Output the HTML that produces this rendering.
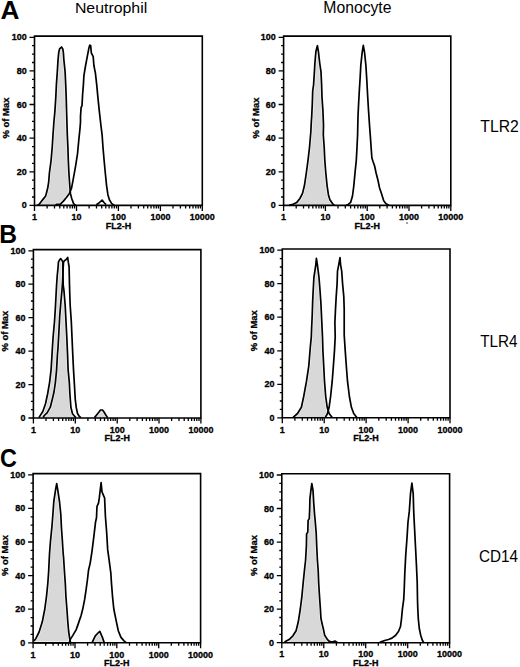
<!DOCTYPE html>
<html><head><meta charset="utf-8"><style>
html,body{margin:0;padding:0;background:#fff;}
svg{display:block;}
.t{font-family:"Liberation Sans",sans-serif;font-weight:bold;font-size:9px;fill:#000;stroke:#000;stroke-width:0.3px;}
.h{font-family:"Liberation Sans",sans-serif;font-size:15.5px;fill:#000;}
.L{font-family:"Liberation Sans",sans-serif;font-weight:bold;font-size:24.5px;fill:#000;}
</style></head><body>
<svg width="520" height="667" viewBox="0 0 520 667">
<rect width="520" height="667" fill="#fff"/>
<text class="L" transform="translate(0.55 18.80) scale(1.0255 1)" style="font-size:25.58px">A</text>
<text class="L" transform="translate(-0.75 242.80) scale(0.9453 1)" style="font-size:26.02px">B</text>
<text class="L" transform="translate(-0.06 466.84) scale(0.8956 1)" style="font-size:26.13px">C</text>
<text class="h" transform="translate(74.90 12.70) scale(1.0271 1)" style="font-size:15.46px">Neutrophil</text>
<text class="h" transform="translate(323.31 12.70) scale(1.0019 1)" style="font-size:15.70px">Monocyte</text>
<text class="h" transform="translate(480.35 131.50) scale(0.9488 1)" style="font-size:16.57px">TLR2</text>
<text class="h" transform="translate(480.16 346.50) scale(0.9393 1)" style="font-size:16.28px">TLR4</text>
<text class="h" transform="translate(479.02 561.74) scale(0.9340 1)" style="font-size:16.38px">CD14</text>
<polygon points="37.5,205.4 39.5,203.9 40.9,202 43.2,199.1 45.5,196.2 46.4,193.3 47.8,187.5 48.7,181.8 49.4,173 51.1,160.3 52.2,147.5 53,134.8 53.9,122 54.9,111.4 55.8,97.4 56.4,84.6 57.3,71.9 58.1,59.1 58.7,52.8 59.6,48.9 61.5,47 62.8,48.9 63.4,52.8 63.8,59.1 65.1,71.9 65.7,84.6 66.2,97.4 66.6,111.4 67,125.1 67.3,134.8 67.9,147.5 68.3,160.3 68.9,173 69.8,185.8 70.4,193.4 71.7,198.5 73.6,203.6 75.5,205.4" fill="#d8d8d8"/>
<polygon points="55.8,205.2 56.2,204.3 60.2,204.3 60.9,203.6 63.4,201.1 66.6,197.3 69.4,193.4 71.5,188.3 73.2,179.4 75.5,166.6 77.5,153.9 78.7,141.1 80,128.4 80.5,122 80.5,116.5 81.1,107.6 82,105.7 82.6,94.8 83.4,84.6 83.9,75.7 85.6,65.5 87.5,55.3 89,47.7 89.8,45.1 90.7,45.7 91.3,52.8 93.2,56.6 93.9,65.5 95.4,73.2 96.7,84.6 97.9,97.4 99.2,110.2 100.9,125.1 102.1,134.8 103,147.5 104.1,160.3 105.3,173 106.6,185.8 107.9,194.7 109.4,199.8 111.7,203.6 114.3,205.2" fill="#fff"/>
<polyline points="37.5,205.4 39.5,203.9 40.9,202 43.2,199.1 45.5,196.2 46.4,193.3 47.8,187.5 48.7,181.8 49.4,173 51.1,160.3 52.2,147.5 53,134.8 53.9,122 54.9,111.4 55.8,97.4 56.4,84.6 57.3,71.9 58.1,59.1 58.7,52.8 59.6,48.9 61.5,47 62.8,48.9 63.4,52.8 63.8,59.1 65.1,71.9 65.7,84.6 66.2,97.4 66.6,111.4 67,125.1 67.3,134.8 67.9,147.5 68.3,160.3 68.9,173 69.8,185.8 70.4,193.4 71.7,198.5 73.6,203.6 75.5,205.4" fill="none" stroke="#fff" stroke-width="3.0" stroke-linejoin="round" stroke-opacity="0.7"/>
<polyline points="55.8,205.2 56.2,204.3 60.2,204.3 60.9,203.6 63.4,201.1 66.6,197.3 69.4,193.4 71.5,188.3 73.2,179.4 75.5,166.6 77.5,153.9 78.7,141.1 80,128.4 80.5,122 80.5,116.5 81.1,107.6 82,105.7 82.6,94.8 83.4,84.6 83.9,75.7 85.6,65.5 87.5,55.3 89,47.7 89.8,45.1 90.7,45.7 91.3,52.8 93.2,56.6 93.9,65.5 95.4,73.2 96.7,84.6 97.9,97.4 99.2,110.2 100.9,125.1 102.1,134.8 103,147.5 104.1,160.3 105.3,173 106.6,185.8 107.9,194.7 109.4,199.8 111.7,203.6 114.3,205.2" fill="none" stroke="#fff" stroke-width="3.0" stroke-linejoin="round" stroke-opacity="0.7"/>
<polyline points="96.4,204.8 99,203 102.1,200.1 104,202.5 106,204.6" fill="none" stroke="#fff" stroke-width="3.0" stroke-linejoin="round" stroke-opacity="0.7"/>
<polyline points="37.5,205.4 39.5,203.9 40.9,202 43.2,199.1 45.5,196.2 46.4,193.3 47.8,187.5 48.7,181.8 49.4,173 51.1,160.3 52.2,147.5 53,134.8 53.9,122 54.9,111.4 55.8,97.4 56.4,84.6 57.3,71.9 58.1,59.1 58.7,52.8 59.6,48.9 61.5,47 62.8,48.9 63.4,52.8 63.8,59.1 65.1,71.9 65.7,84.6 66.2,97.4 66.6,111.4 67,125.1 67.3,134.8 67.9,147.5 68.3,160.3 68.9,173 69.8,185.8 70.4,193.4 71.7,198.5 73.6,203.6 75.5,205.4" fill="none" stroke="#000" stroke-width="1.7" stroke-linejoin="round"/>
<polyline points="55.8,205.2 56.2,204.3 60.2,204.3 60.9,203.6 63.4,201.1 66.6,197.3 69.4,193.4 71.5,188.3 73.2,179.4 75.5,166.6 77.5,153.9 78.7,141.1 80,128.4 80.5,122 80.5,116.5 81.1,107.6 82,105.7 82.6,94.8 83.4,84.6 83.9,75.7 85.6,65.5 87.5,55.3 89,47.7 89.8,45.1 90.7,45.7 91.3,52.8 93.2,56.6 93.9,65.5 95.4,73.2 96.7,84.6 97.9,97.4 99.2,110.2 100.9,125.1 102.1,134.8 103,147.5 104.1,160.3 105.3,173 106.6,185.8 107.9,194.7 109.4,199.8 111.7,203.6 114.3,205.2" fill="none" stroke="#000" stroke-width="1.7" stroke-linejoin="round"/>
<polyline points="96.4,204.8 99,203 102.1,200.1 104,202.5 106,204.6" fill="none" stroke="#000" stroke-width="1.7" stroke-linejoin="round"/>
<path d="M34.5 36.1H202.3V205.4H34.5Z" fill="none" stroke="#000" stroke-width="1.6"/>
<path d="M29.5 205.4H34.5M32 197H34.5M32 188.6H34.5M32 180.2H34.5M29.5 171.8H34.5M32 163.4H34.5M32 155H34.5M32 146.6H34.5M29.5 138.2H34.5M32 129.8H34.5M32 121.4H34.5M32 112.9H34.5M29.5 104.5H34.5M32 96.1H34.5M32 87.7H34.5M32 79.3H34.5M29.5 70.9H34.5M32 62.5H34.5M32 54.1H34.5M32 45.7H34.5M29.5 37.3H34.5M34.5 205.4V210.9M47.1 205.4V208.4M54.5 205.4V208.4M59.8 205.4V208.4M63.8 205.4V208.4M67.1 205.4V208.4M70 205.4V208.4M72.4 205.4V208.4M74.5 205.4V208.4M76.5 205.4V210.9M89.1 205.4V208.4M96.5 205.4V208.4M101.7 205.4V208.4M105.8 205.4V208.4M109.1 205.4V208.4M111.9 205.4V208.4M114.3 205.4V208.4M116.5 205.4V208.4M118.4 205.4V210.9M131 205.4V208.4M138.4 205.4V208.4M143.7 205.4V208.4M147.7 205.4V208.4M151 205.4V208.4M153.9 205.4V208.4M156.3 205.4V208.4M158.4 205.4V208.4M160.4 205.4V210.9M173 205.4V208.4M180.4 205.4V208.4M185.6 205.4V208.4M189.7 205.4V208.4M193 205.4V208.4M195.8 205.4V208.4M198.2 205.4V208.4M200.4 205.4V208.4M202.3 205.4V210.9" stroke="#000" stroke-width="1.3" fill="none"/>
<text transform="translate(26.7 208.4) scale(1 1.1)" class="t" text-anchor="end">0</text>
<text transform="translate(26.7 174.8) scale(1 1.1)" class="t" text-anchor="end">20</text>
<text transform="translate(26.7 141.2) scale(1 1.1)" class="t" text-anchor="end">40</text>
<text transform="translate(26.7 107.5) scale(1 1.1)" class="t" text-anchor="end">60</text>
<text transform="translate(26.7 73.9) scale(1 1.1)" class="t" text-anchor="end">80</text>
<text transform="translate(26.7 40.3) scale(1 1.1)" class="t" text-anchor="end">100</text>
<text transform="translate(34.5 220.1) scale(1 1.1)" class="t" text-anchor="middle">1</text>
<text transform="translate(76.5 220.1) scale(1 1.1)" class="t" text-anchor="middle">10</text>
<text transform="translate(118.4 220.1) scale(1 1.1)" class="t" text-anchor="middle">100</text>
<text transform="translate(160.4 220.1) scale(1 1.1)" class="t" text-anchor="middle">1000</text>
<text transform="translate(202.3 220.1) scale(1 1.1)" class="t" text-anchor="middle">10000</text>
<text transform="translate(118.4 228.6) scale(1 1.1)" class="t" text-anchor="middle">FL2-H</text>
<text transform="translate(9.4 118) scale(1 1.05) rotate(-90)" class="t" text-anchor="middle">% of Max</text>
<polygon points="289.1,205.4 292.9,204.3 296.8,202.4 299.9,198.5 302.5,193.4 304.4,185.8 306.3,173 308,160.3 309.5,147.5 310.8,132.2 311.3,122 311.7,116.5 312.3,103.8 312.7,91 313.6,84.6 314.4,71.9 314.9,63 315.9,51.5 317.4,45.7 318.4,51.5 319.7,63 321,71.9 321.6,84.6 322,97.4 322.9,110.2 323.5,125.1 323.3,134.8 324.2,147.5 324.8,160.3 325.8,173 327.1,185.8 328.4,194.7 329.9,199.8 332.5,203.6 334.5,205.4" fill="#d8d8d8"/>
<polyline points="289.1,205.4 292.9,204.3 296.8,202.4 299.9,198.5 302.5,193.4 304.4,185.8 306.3,173 308,160.3 309.5,147.5 310.8,132.2 311.3,122 311.7,116.5 312.3,103.8 312.7,91 313.6,84.6 314.4,71.9 314.9,63 315.9,51.5 317.4,45.7 318.4,51.5 319.7,63 321,71.9 321.6,84.6 322,97.4 322.9,110.2 323.5,125.1 323.3,134.8 324.2,147.5 324.8,160.3 325.8,173 327.1,185.8 328.4,194.7 329.9,199.8 332.5,203.6 334.5,205.4" fill="none" stroke="#fff" stroke-width="3.0" stroke-linejoin="round" stroke-opacity="0.7"/>
<polyline points="346,205.2 348,204.7 350.6,202.4 352.5,196 353.8,185.8 355,173 356.3,160.3 357,147.5 357.6,134.8 357.8,125.1 358,116.5 358.6,103.8 359.3,91 360.1,78.3 360.8,65.5 362.1,52.8 363.3,45.4 364.6,52.8 365.9,65.5 366.8,80 367.6,95 368.5,110 369.5,125 370.4,137 371.3,150 371.9,158 373.2,162 374.6,166 376.1,173 377.9,180 379.5,187.7 381.8,194.6 383.7,200.8 386,203.8 389,205.2" fill="none" stroke="#fff" stroke-width="3.0" stroke-linejoin="round" stroke-opacity="0.7"/>
<polyline points="289.1,205.4 292.9,204.3 296.8,202.4 299.9,198.5 302.5,193.4 304.4,185.8 306.3,173 308,160.3 309.5,147.5 310.8,132.2 311.3,122 311.7,116.5 312.3,103.8 312.7,91 313.6,84.6 314.4,71.9 314.9,63 315.9,51.5 317.4,45.7 318.4,51.5 319.7,63 321,71.9 321.6,84.6 322,97.4 322.9,110.2 323.5,125.1 323.3,134.8 324.2,147.5 324.8,160.3 325.8,173 327.1,185.8 328.4,194.7 329.9,199.8 332.5,203.6 334.5,205.4" fill="none" stroke="#000" stroke-width="1.7" stroke-linejoin="round"/>
<polyline points="346,205.2 348,204.7 350.6,202.4 352.5,196 353.8,185.8 355,173 356.3,160.3 357,147.5 357.6,134.8 357.8,125.1 358,116.5 358.6,103.8 359.3,91 360.1,78.3 360.8,65.5 362.1,52.8 363.3,45.4 364.6,52.8 365.9,65.5 366.8,80 367.6,95 368.5,110 369.5,125 370.4,137 371.3,150 371.9,158 373.2,162 374.6,166 376.1,173 377.9,180 379.5,187.7 381.8,194.6 383.7,200.8 386,203.8 389,205.2" fill="none" stroke="#000" stroke-width="1.7" stroke-linejoin="round"/>
<path d="M283.6 36.1H450.8V205.4H283.6Z" fill="none" stroke="#000" stroke-width="1.6"/>
<path d="M278.6 205.4H283.6M281.1 197H283.6M281.1 188.6H283.6M281.1 180.2H283.6M278.6 171.8H283.6M281.1 163.4H283.6M281.1 155H283.6M281.1 146.6H283.6M278.6 138.2H283.6M281.1 129.8H283.6M281.1 121.4H283.6M281.1 112.9H283.6M278.6 104.5H283.6M281.1 96.1H283.6M281.1 87.7H283.6M281.1 79.3H283.6M278.6 70.9H283.6M281.1 62.5H283.6M281.1 54.1H283.6M281.1 45.7H283.6M278.6 37.3H283.6M283.6 205.4V210.9M296.2 205.4V208.4M303.5 205.4V208.4M308.8 205.4V208.4M312.8 205.4V208.4M316.1 205.4V208.4M318.9 205.4V208.4M321.3 205.4V208.4M323.5 205.4V208.4M325.4 205.4V210.9M338 205.4V208.4M345.3 205.4V208.4M350.6 205.4V208.4M354.6 205.4V208.4M357.9 205.4V208.4M360.7 205.4V208.4M363.1 205.4V208.4M365.3 205.4V208.4M367.2 205.4V210.9M379.8 205.4V208.4M387.1 205.4V208.4M392.4 205.4V208.4M396.4 205.4V208.4M399.7 205.4V208.4M402.5 205.4V208.4M404.9 205.4V208.4M407.1 205.4V208.4M409 205.4V210.9M421.6 205.4V208.4M428.9 205.4V208.4M434.2 205.4V208.4M438.2 205.4V208.4M441.5 205.4V208.4M444.3 205.4V208.4M446.7 205.4V208.4M448.9 205.4V208.4M450.8 205.4V210.9" stroke="#000" stroke-width="1.3" fill="none"/>
<text transform="translate(275.8 208.4) scale(1 1.1)" class="t" text-anchor="end">0</text>
<text transform="translate(275.8 174.8) scale(1 1.1)" class="t" text-anchor="end">20</text>
<text transform="translate(275.8 141.2) scale(1 1.1)" class="t" text-anchor="end">40</text>
<text transform="translate(275.8 107.5) scale(1 1.1)" class="t" text-anchor="end">60</text>
<text transform="translate(275.8 73.9) scale(1 1.1)" class="t" text-anchor="end">80</text>
<text transform="translate(275.8 40.3) scale(1 1.1)" class="t" text-anchor="end">100</text>
<text transform="translate(283.6 220.1) scale(1 1.1)" class="t" text-anchor="middle">1</text>
<text transform="translate(325.4 220.1) scale(1 1.1)" class="t" text-anchor="middle">10</text>
<text transform="translate(367.2 220.1) scale(1 1.1)" class="t" text-anchor="middle">100</text>
<text transform="translate(409 220.1) scale(1 1.1)" class="t" text-anchor="middle">1000</text>
<text transform="translate(450.8 220.1) scale(1 1.1)" class="t" text-anchor="middle">10000</text>
<text transform="translate(367.2 228.6) scale(1 1.1)" class="t" text-anchor="middle">FL2-H</text>
<text transform="translate(258.5 118) scale(1 1.05) rotate(-90)" class="t" text-anchor="middle">% of Max</text>
<polygon points="38.9,417.6 40.3,415.4 42.8,411.5 45.5,403.7 47.6,394 49.6,382.3 51.1,369.6 52,355 52.4,347.7 53.1,337.2 54.5,321.5 55.5,305.7 56.3,290 56.6,285 57.2,276 58.1,267 58.4,262.2 59.6,259.8 60.8,258.6 62,260.4 62.9,262.2 62.9,273 63.2,285 63.9,290 65.2,305.7 66,321.5 66.8,337.2 67.5,353 68.1,369.6 69.3,382.3 69.9,394 70.9,407.2 72.5,413.7 74.8,416.5 76,417.6" fill="#d8d8d8"/>
<polygon points="94.5,417.6 97,414.5 99,412 100.5,410 102.5,410 104,412 105.5,414.5 107.5,417.6" fill="#d8d8d8"/>
<polyline points="38.9,417.6 40.3,415.4 42.8,411.5 45.5,403.7 47.6,394 49.6,382.3 51.1,369.6 52,355 52.4,347.7 53.1,337.2 54.5,321.5 55.5,305.7 56.3,290 56.6,285 57.2,276 58.1,267 58.4,262.2 59.6,259.8 60.8,258.6 62,260.4 62.9,262.2 62.9,273 63.2,285 63.9,290 65.2,305.7 66,321.5 66.8,337.2 67.5,353 68.1,369.6 69.3,382.3 69.9,394 70.9,407.2 72.5,413.7 74.8,416.5 76,417.6" fill="none" stroke="#fff" stroke-width="3.0" stroke-linejoin="round" stroke-opacity="0.7"/>
<polyline points="43,417.6 44.3,415.5 47.1,412.8 50.3,407.2 52.6,398 54,392 55.4,382.3 56.6,369.6 57.4,355 58,347.7 58.9,332 59.7,316.2 61,300.5 62,290 62.6,282 62.9,273 63.5,262.2 64.4,260.7 65.9,259.8 67.7,257.4 68.3,262.2 69.1,267 69.3,276 69.5,285 69.8,295 70.2,305.7 71.3,321.5 72,337.2 72.7,353 73.5,369.6 74.4,384.3 75.2,398.8 76.2,407.2 77.6,413.7 79.4,416.5 81,417.6" fill="none" stroke="#fff" stroke-width="3.0" stroke-linejoin="round" stroke-opacity="0.7"/>
<polyline points="94.5,417.6 97,414.5 99,412 100.5,410 102.5,410 104,412 105.5,414.5 107.5,417.6" fill="none" stroke="#fff" stroke-width="3.0" stroke-linejoin="round" stroke-opacity="0.7"/>
<polyline points="38.9,417.6 40.3,415.4 42.8,411.5 45.5,403.7 47.6,394 49.6,382.3 51.1,369.6 52,355 52.4,347.7 53.1,337.2 54.5,321.5 55.5,305.7 56.3,290 56.6,285 57.2,276 58.1,267 58.4,262.2 59.6,259.8 60.8,258.6 62,260.4 62.9,262.2 62.9,273 63.2,285 63.9,290 65.2,305.7 66,321.5 66.8,337.2 67.5,353 68.1,369.6 69.3,382.3 69.9,394 70.9,407.2 72.5,413.7 74.8,416.5 76,417.6" fill="none" stroke="#000" stroke-width="1.7" stroke-linejoin="round"/>
<polyline points="43,417.6 44.3,415.5 47.1,412.8 50.3,407.2 52.6,398 54,392 55.4,382.3 56.6,369.6 57.4,355 58,347.7 58.9,332 59.7,316.2 61,300.5 62,290 62.6,282 62.9,273 63.5,262.2 64.4,260.7 65.9,259.8 67.7,257.4 68.3,262.2 69.1,267 69.3,276 69.5,285 69.8,295 70.2,305.7 71.3,321.5 72,337.2 72.7,353 73.5,369.6 74.4,384.3 75.2,398.8 76.2,407.2 77.6,413.7 79.4,416.5 81,417.6" fill="none" stroke="#000" stroke-width="1.7" stroke-linejoin="round"/>
<polyline points="94.5,417.6 97,414.5 99,412 100.5,410 102.5,410 104,412 105.5,414.5 107.5,417.6" fill="none" stroke="#000" stroke-width="1.7" stroke-linejoin="round"/>
<path d="M33.4 249.6H200.9V418H33.4Z" fill="none" stroke="#000" stroke-width="1.6"/>
<path d="M28.4 418H33.4M30.9 409.6H33.4M30.9 401.3H33.4M30.9 392.9H33.4M28.4 384.6H33.4M30.9 376.2H33.4M30.9 367.8H33.4M30.9 359.5H33.4M28.4 351.1H33.4M30.9 342.8H33.4M30.9 334.4H33.4M30.9 326H33.4M28.4 317.7H33.4M30.9 309.3H33.4M30.9 301H33.4M30.9 292.6H33.4M28.4 284.2H33.4M30.9 275.9H33.4M30.9 267.5H33.4M30.9 259.2H33.4M28.4 250.8H33.4M33.4 418V423.5M46 418V421M53.4 418V421M58.6 418V421M62.7 418V421M66 418V421M68.8 418V421M71.2 418V421M73.4 418V421M75.3 418V423.5M87.9 418V421M95.3 418V421M100.5 418V421M104.5 418V421M107.9 418V421M110.7 418V421M113.1 418V421M115.2 418V421M117.2 418V423.5M129.8 418V421M137.1 418V421M142.4 418V421M146.4 418V421M149.7 418V421M152.5 418V421M155 418V421M157.1 418V421M159 418V423.5M171.6 418V421M179 418V421M184.2 418V421M188.3 418V421M191.6 418V421M194.4 418V421M196.8 418V421M199 418V421M200.9 418V423.5" stroke="#000" stroke-width="1.3" fill="none"/>
<text transform="translate(25.6 421) scale(1 1.1)" class="t" text-anchor="end">0</text>
<text transform="translate(25.6 387.6) scale(1 1.1)" class="t" text-anchor="end">20</text>
<text transform="translate(25.6 354.1) scale(1 1.1)" class="t" text-anchor="end">40</text>
<text transform="translate(25.6 320.7) scale(1 1.1)" class="t" text-anchor="end">60</text>
<text transform="translate(25.6 287.2) scale(1 1.1)" class="t" text-anchor="end">80</text>
<text transform="translate(25.6 253.8) scale(1 1.1)" class="t" text-anchor="end">100</text>
<text transform="translate(33.4 432.7) scale(1 1.1)" class="t" text-anchor="middle">1</text>
<text transform="translate(75.3 432.7) scale(1 1.1)" class="t" text-anchor="middle">10</text>
<text transform="translate(117.2 432.7) scale(1 1.1)" class="t" text-anchor="middle">100</text>
<text transform="translate(159 432.7) scale(1 1.1)" class="t" text-anchor="middle">1000</text>
<text transform="translate(200.9 432.7) scale(1 1.1)" class="t" text-anchor="middle">10000</text>
<text transform="translate(117.2 441.2) scale(1 1.1)" class="t" text-anchor="middle">FL2-H</text>
<text transform="translate(8.3 331.1) scale(1 1.05) rotate(-90)" class="t" text-anchor="middle">% of Max</text>
<polygon points="292.9,417.6 297.5,413.5 301.4,407.3 303.7,396.5 306.5,381.2 308.8,365.8 310.3,347.3 311.3,337 311.6,328.5 312.2,315.8 312.6,303 313.2,290.3 313.9,277.5 315.8,264.8 316.4,258.4 317.4,264.8 319,277.5 320,290.3 320.9,303 321.5,315.8 322.1,328.5 322.5,337 322.9,350.4 323.7,365.8 324.5,381.2 325.7,396.5 327.2,407.3 329.1,413.5 332.2,417.6" fill="#d8d8d8"/>
<polygon points="325.2,417.6 327.5,413.5 329.1,407.3 330.6,396.5 332.2,381.2 333.4,365.8 334.5,350.4 335.2,337 334.9,322.2 335.5,309.4 336.2,296.6 337.1,283.9 337.5,271.1 338.7,264.8 340,257.7 340.6,264.8 341.7,271.1 342.6,283.9 343.8,296.6 344.2,309.4 344.2,322.2 344.2,335 345.2,350.4 346.3,365.8 347.5,381.2 349.4,396.5 351.4,407.3 353.7,413.5 356.8,417.6" fill="#fff"/>
<polyline points="292.9,417.6 297.5,413.5 301.4,407.3 303.7,396.5 306.5,381.2 308.8,365.8 310.3,347.3 311.3,337 311.6,328.5 312.2,315.8 312.6,303 313.2,290.3 313.9,277.5 315.8,264.8 316.4,258.4 317.4,264.8 319,277.5 320,290.3 320.9,303 321.5,315.8 322.1,328.5 322.5,337 322.9,350.4 323.7,365.8 324.5,381.2 325.7,396.5 327.2,407.3 329.1,413.5 332.2,417.6" fill="none" stroke="#fff" stroke-width="3.0" stroke-linejoin="round" stroke-opacity="0.7"/>
<polyline points="325.2,417.6 327.5,413.5 329.1,407.3 330.6,396.5 332.2,381.2 333.4,365.8 334.5,350.4 335.2,337 334.9,322.2 335.5,309.4 336.2,296.6 337.1,283.9 337.5,271.1 338.7,264.8 340,257.7 340.6,264.8 341.7,271.1 342.6,283.9 343.8,296.6 344.2,309.4 344.2,322.2 344.2,335 345.2,350.4 346.3,365.8 347.5,381.2 349.4,396.5 351.4,407.3 353.7,413.5 356.8,417.6" fill="none" stroke="#fff" stroke-width="3.0" stroke-linejoin="round" stroke-opacity="0.7"/>
<polyline points="292.9,417.6 297.5,413.5 301.4,407.3 303.7,396.5 306.5,381.2 308.8,365.8 310.3,347.3 311.3,337 311.6,328.5 312.2,315.8 312.6,303 313.2,290.3 313.9,277.5 315.8,264.8 316.4,258.4 317.4,264.8 319,277.5 320,290.3 320.9,303 321.5,315.8 322.1,328.5 322.5,337 322.9,350.4 323.7,365.8 324.5,381.2 325.7,396.5 327.2,407.3 329.1,413.5 332.2,417.6" fill="none" stroke="#000" stroke-width="1.7" stroke-linejoin="round"/>
<polyline points="325.2,417.6 327.5,413.5 329.1,407.3 330.6,396.5 332.2,381.2 333.4,365.8 334.5,350.4 335.2,337 334.9,322.2 335.5,309.4 336.2,296.6 337.1,283.9 337.5,271.1 338.7,264.8 340,257.7 340.6,264.8 341.7,271.1 342.6,283.9 343.8,296.6 344.2,309.4 344.2,322.2 344.2,335 345.2,350.4 346.3,365.8 347.5,381.2 349.4,396.5 351.4,407.3 353.7,413.5 356.8,417.6" fill="none" stroke="#000" stroke-width="1.7" stroke-linejoin="round"/>
<path d="M282.3 249H450V417.8H282.3Z" fill="none" stroke="#000" stroke-width="1.6"/>
<path d="M277.3 417.8H282.3M279.8 409.4H282.3M279.8 401H282.3M279.8 392.7H282.3M277.3 384.3H282.3M279.8 375.9H282.3M279.8 367.5H282.3M279.8 359.1H282.3M277.3 350.8H282.3M279.8 342.4H282.3M279.8 334H282.3M279.8 325.6H282.3M277.3 317.2H282.3M279.8 308.9H282.3M279.8 300.5H282.3M279.8 292.1H282.3M277.3 283.7H282.3M279.8 275.3H282.3M279.8 267H282.3M279.8 258.6H282.3M277.3 250.2H282.3M282.3 417.8V423.3M294.9 417.8V420.8M302.3 417.8V420.8M307.5 417.8V420.8M311.6 417.8V420.8M314.9 417.8V420.8M317.7 417.8V420.8M320.2 417.8V420.8M322.3 417.8V420.8M324.2 417.8V423.3M336.8 417.8V420.8M344.2 417.8V420.8M349.5 417.8V420.8M353.5 417.8V420.8M356.8 417.8V420.8M359.7 417.8V420.8M362.1 417.8V420.8M364.2 417.8V420.8M366.1 417.8V423.3M378.8 417.8V420.8M386.2 417.8V420.8M391.4 417.8V420.8M395.5 417.8V420.8M398.8 417.8V420.8M401.6 417.8V420.8M404 417.8V420.8M406.2 417.8V420.8M408.1 417.8V423.3M420.7 417.8V420.8M428.1 417.8V420.8M433.3 417.8V420.8M437.4 417.8V420.8M440.7 417.8V420.8M443.5 417.8V420.8M445.9 417.8V420.8M448.1 417.8V420.8M450 417.8V423.3" stroke="#000" stroke-width="1.3" fill="none"/>
<text transform="translate(274.5 420.8) scale(1 1.1)" class="t" text-anchor="end">0</text>
<text transform="translate(274.5 387.3) scale(1 1.1)" class="t" text-anchor="end">20</text>
<text transform="translate(274.5 353.8) scale(1 1.1)" class="t" text-anchor="end">40</text>
<text transform="translate(274.5 320.2) scale(1 1.1)" class="t" text-anchor="end">60</text>
<text transform="translate(274.5 286.7) scale(1 1.1)" class="t" text-anchor="end">80</text>
<text transform="translate(274.5 253.2) scale(1 1.1)" class="t" text-anchor="end">100</text>
<text transform="translate(282.3 432.5) scale(1 1.1)" class="t" text-anchor="middle">1</text>
<text transform="translate(324.2 432.5) scale(1 1.1)" class="t" text-anchor="middle">10</text>
<text transform="translate(366.1 432.5) scale(1 1.1)" class="t" text-anchor="middle">100</text>
<text transform="translate(408.1 432.5) scale(1 1.1)" class="t" text-anchor="middle">1000</text>
<text transform="translate(450 432.5) scale(1 1.1)" class="t" text-anchor="middle">10000</text>
<text transform="translate(366.1 441) scale(1 1.1)" class="t" text-anchor="middle">FL2-H</text>
<text transform="translate(257.2 330.7) scale(1 1.05) rotate(-90)" class="t" text-anchor="middle">% of Max</text>
<polygon points="34,640.9 35.9,638.4 39.1,632 42.3,621.8 44.8,609 46.5,596.3 47.8,583.5 48.7,570.8 49.3,558 49.6,552.5 50.6,539.8 51.9,527 52.9,514.3 53.8,501.5 55.7,488.8 56.7,483.7 57.6,488.8 59.5,501.5 60.8,514.3 61.4,527 62.3,539.8 63.1,552.5 63.6,558 64.4,570.8 65.3,583.5 65.9,596.3 66.9,609 67.8,621.8 68.7,632 69.7,638.4 70.6,642.8 34,642.8" fill="#d8d8d8"/>
<polygon points="92.1,642.6 95.3,635.8 98,633 99.8,631.3 102.3,637.1 104.2,642.6" fill="#d8d8d8"/>
<polyline points="34,640.9 35.9,638.4 39.1,632 42.3,621.8 44.8,609 46.5,596.3 47.8,583.5 48.7,570.8 49.3,558 49.6,552.5 50.6,539.8 51.9,527 52.9,514.3 53.8,501.5 55.7,488.8 56.7,483.7 57.6,488.8 59.5,501.5 60.8,514.3 61.4,527 62.3,539.8 63.1,552.5 63.6,558 64.4,570.8 65.3,583.5 65.9,596.3 66.9,609 67.8,621.8 68.7,632 69.7,638.4 70.6,642.8 34,642.8" fill="none" stroke="#fff" stroke-width="3.0" stroke-linejoin="round" stroke-opacity="0.7"/>
<polyline points="69.4,642.5 70.3,639.4 72.7,635.6 76.1,629.9 78.5,623.1 81.1,615.5 82.8,608.8 84.7,599.2 86.1,589.6 87.4,580 88.6,569.7 90.1,563.6 92,551.4 93.9,536.1 95.5,522.3 96.5,517.8 97,506.3 98.5,503.2 99.3,497.9 101.1,482.6 102,491.8 103.9,496.3 104.6,497.9 105.4,516.2 106.6,531.5 107.7,549.9 109.2,560.6 110.8,572.8 111.5,583.5 112.5,596.3 113.8,609 116.4,621.8 118.3,630.7 120.8,637.1 124,640.9 126,642.5" fill="none" stroke="#fff" stroke-width="3.0" stroke-linejoin="round" stroke-opacity="0.7"/>
<polyline points="92.1,642.6 95.3,635.8 98,633 99.8,631.3 102.3,637.1 104.2,642.6" fill="none" stroke="#fff" stroke-width="3.0" stroke-linejoin="round" stroke-opacity="0.7"/>
<polyline points="34,640.9 35.9,638.4 39.1,632 42.3,621.8 44.8,609 46.5,596.3 47.8,583.5 48.7,570.8 49.3,558 49.6,552.5 50.6,539.8 51.9,527 52.9,514.3 53.8,501.5 55.7,488.8 56.7,483.7 57.6,488.8 59.5,501.5 60.8,514.3 61.4,527 62.3,539.8 63.1,552.5 63.6,558 64.4,570.8 65.3,583.5 65.9,596.3 66.9,609 67.8,621.8 68.7,632 69.7,638.4 70.6,642.8 34,642.8" fill="none" stroke="#000" stroke-width="1.7" stroke-linejoin="round"/>
<polyline points="69.4,642.5 70.3,639.4 72.7,635.6 76.1,629.9 78.5,623.1 81.1,615.5 82.8,608.8 84.7,599.2 86.1,589.6 87.4,580 88.6,569.7 90.1,563.6 92,551.4 93.9,536.1 95.5,522.3 96.5,517.8 97,506.3 98.5,503.2 99.3,497.9 101.1,482.6 102,491.8 103.9,496.3 104.6,497.9 105.4,516.2 106.6,531.5 107.7,549.9 109.2,560.6 110.8,572.8 111.5,583.5 112.5,596.3 113.8,609 116.4,621.8 118.3,630.7 120.8,637.1 124,640.9 126,642.5" fill="none" stroke="#000" stroke-width="1.7" stroke-linejoin="round"/>
<polyline points="92.1,642.6 95.3,635.8 98,633 99.8,631.3 102.3,637.1 104.2,642.6" fill="none" stroke="#000" stroke-width="1.7" stroke-linejoin="round"/>
<path d="M33.1 473.6H200.6V642.8H33.1Z" fill="none" stroke="#000" stroke-width="1.6"/>
<path d="M28.1 642.8H33.1M30.6 634.4H33.1M30.6 626H33.1M30.6 617.6H33.1M28.1 609.2H33.1M30.6 600.8H33.1M30.6 592.4H33.1M30.6 584H33.1M28.1 575.6H33.1M30.6 567.2H33.1M30.6 558.8H33.1M30.6 550.4H33.1M28.1 542H33.1M30.6 533.6H33.1M30.6 525.2H33.1M30.6 516.8H33.1M28.1 508.4H33.1M30.6 500H33.1M30.6 491.6H33.1M30.6 483.2H33.1M28.1 474.8H33.1M33.1 642.8V648.3M45.7 642.8V645.8M53.1 642.8V645.8M58.3 642.8V645.8M62.4 642.8V645.8M65.7 642.8V645.8M68.5 642.8V645.8M70.9 642.8V645.8M73.1 642.8V645.8M75 642.8V648.3M87.6 642.8V645.8M95 642.8V645.8M100.2 642.8V645.8M104.2 642.8V645.8M107.6 642.8V645.8M110.4 642.8V645.8M112.8 642.8V645.8M114.9 642.8V645.8M116.8 642.8V648.3M129.5 642.8V645.8M136.8 642.8V645.8M142.1 642.8V645.8M146.1 642.8V645.8M149.4 642.8V645.8M152.2 642.8V645.8M154.7 642.8V645.8M156.8 642.8V645.8M158.7 642.8V648.3M171.3 642.8V645.8M178.7 642.8V645.8M183.9 642.8V645.8M188 642.8V645.8M191.3 642.8V645.8M194.1 642.8V645.8M196.5 642.8V645.8M198.7 642.8V645.8M200.6 642.8V648.3" stroke="#000" stroke-width="1.3" fill="none"/>
<text transform="translate(25.3 645.8) scale(1 1.1)" class="t" text-anchor="end">0</text>
<text transform="translate(25.3 612.2) scale(1 1.1)" class="t" text-anchor="end">20</text>
<text transform="translate(25.3 578.6) scale(1 1.1)" class="t" text-anchor="end">40</text>
<text transform="translate(25.3 545) scale(1 1.1)" class="t" text-anchor="end">60</text>
<text transform="translate(25.3 511.4) scale(1 1.1)" class="t" text-anchor="end">80</text>
<text transform="translate(25.3 477.8) scale(1 1.1)" class="t" text-anchor="end">100</text>
<text transform="translate(33.1 657.5) scale(1 1.1)" class="t" text-anchor="middle">1</text>
<text transform="translate(75 657.5) scale(1 1.1)" class="t" text-anchor="middle">10</text>
<text transform="translate(116.8 657.5) scale(1 1.1)" class="t" text-anchor="middle">100</text>
<text transform="translate(158.7 657.5) scale(1 1.1)" class="t" text-anchor="middle">1000</text>
<text transform="translate(200.6 657.5) scale(1 1.1)" class="t" text-anchor="middle">10000</text>
<text transform="translate(116.8 666) scale(1 1.1)" class="t" text-anchor="middle">FL2-H</text>
<text transform="translate(8 555.5) scale(1 1.05) rotate(-90)" class="t" text-anchor="middle">% of Max</text>
<polygon points="284.5,642.6 285.3,641.5 289.1,639.6 292.9,635.8 296.1,630.7 298.3,621.8 300.3,609 301.9,596.3 303.1,583.5 304.4,570.8 305.6,560 306.4,545.7 306.6,534 307.8,532.1 308.1,520.4 309.3,518.6 309.7,508.8 309.9,498.9 310.9,490.3 311.8,483.5 313,490.3 313.7,502.6 314.6,514.9 315.2,521 316.2,533.4 316.7,545.7 317.4,560 318.2,570.8 318.7,583.5 319.5,596.3 320.4,609 320.9,618 322.1,623.8 323.5,629.5 324.7,635.3 327.3,639.4 329,641.1 331.6,642 333.5,641.5 335,641.1 336.5,642 337.5,642.7" fill="#d8d8d8"/>
<polyline points="284.5,642.6 285.3,641.5 289.1,639.6 292.9,635.8 296.1,630.7 298.3,621.8 300.3,609 301.9,596.3 303.1,583.5 304.4,570.8 305.6,560 306.4,545.7 306.6,534 307.8,532.1 308.1,520.4 309.3,518.6 309.7,508.8 309.9,498.9 310.9,490.3 311.8,483.5 313,490.3 313.7,502.6 314.6,514.9 315.2,521 316.2,533.4 316.7,545.7 317.4,560 318.2,570.8 318.7,583.5 319.5,596.3 320.4,609 320.9,618 322.1,623.8 323.5,629.5 324.7,635.3 327.3,639.4 329,641.1 331.6,642 333.5,641.5 335,641.1 336.5,642 337.5,642.7" fill="none" stroke="#fff" stroke-width="3.0" stroke-linejoin="round" stroke-opacity="0.7"/>
<polyline points="379.8,642.4 384.7,640.5 388.5,639.5 391.9,638.1 395.7,635.2 398.6,631.3 400.5,626.5 401.5,618.8 402.4,609.2 403.7,599.6 404.2,590 404.8,573.3 405.7,555.6 407,538 408,522 409.3,511.4 410.5,493.7 411.9,483.1 413.2,493.7 413.7,511.4 414.6,529.1 415.5,546.8 416.4,564.5 417.2,582.2 417.5,599.6 417.8,609.2 418.3,618.8 419.3,628.5 420.7,635.2 422.2,640 423.6,642.4" fill="none" stroke="#fff" stroke-width="3.0" stroke-linejoin="round" stroke-opacity="0.7"/>
<polyline points="284.5,642.6 285.3,641.5 289.1,639.6 292.9,635.8 296.1,630.7 298.3,621.8 300.3,609 301.9,596.3 303.1,583.5 304.4,570.8 305.6,560 306.4,545.7 306.6,534 307.8,532.1 308.1,520.4 309.3,518.6 309.7,508.8 309.9,498.9 310.9,490.3 311.8,483.5 313,490.3 313.7,502.6 314.6,514.9 315.2,521 316.2,533.4 316.7,545.7 317.4,560 318.2,570.8 318.7,583.5 319.5,596.3 320.4,609 320.9,618 322.1,623.8 323.5,629.5 324.7,635.3 327.3,639.4 329,641.1 331.6,642 333.5,641.5 335,641.1 336.5,642 337.5,642.7" fill="none" stroke="#000" stroke-width="1.7" stroke-linejoin="round"/>
<polyline points="379.8,642.4 384.7,640.5 388.5,639.5 391.9,638.1 395.7,635.2 398.6,631.3 400.5,626.5 401.5,618.8 402.4,609.2 403.7,599.6 404.2,590 404.8,573.3 405.7,555.6 407,538 408,522 409.3,511.4 410.5,493.7 411.9,483.1 413.2,493.7 413.7,511.4 414.6,529.1 415.5,546.8 416.4,564.5 417.2,582.2 417.5,599.6 417.8,609.2 418.3,618.8 419.3,628.5 420.7,635.2 422.2,640 423.6,642.4" fill="none" stroke="#000" stroke-width="1.7" stroke-linejoin="round"/>
<path d="M281.8 473.8H449.6V642.7H281.8Z" fill="none" stroke="#000" stroke-width="1.6"/>
<path d="M276.8 642.7H281.8M279.3 634.3H281.8M279.3 625.9H281.8M279.3 617.5H281.8M276.8 609.2H281.8M279.3 600.8H281.8M279.3 592.4H281.8M279.3 584H281.8M276.8 575.6H281.8M279.3 567.2H281.8M279.3 558.9H281.8M279.3 550.5H281.8M276.8 542.1H281.8M279.3 533.7H281.8M279.3 525.3H281.8M279.3 516.9H281.8M276.8 508.5H281.8M279.3 500.2H281.8M279.3 491.8H281.8M279.3 483.4H281.8M276.8 475H281.8M281.8 642.7V648.2M294.4 642.7V645.7M301.8 642.7V645.7M307.1 642.7V645.7M311.1 642.7V645.7M314.4 642.7V645.7M317.3 642.7V645.7M319.7 642.7V645.7M321.8 642.7V645.7M323.8 642.7V648.2M336.4 642.7V645.7M343.8 642.7V645.7M349 642.7V645.7M353.1 642.7V645.7M356.4 642.7V645.7M359.2 642.7V645.7M361.6 642.7V645.7M363.8 642.7V645.7M365.7 642.7V648.2M378.3 642.7V645.7M385.7 642.7V645.7M391 642.7V645.7M395 642.7V645.7M398.3 642.7V645.7M401.2 642.7V645.7M403.6 642.7V645.7M405.7 642.7V645.7M407.7 642.7V648.2M420.3 642.7V645.7M427.7 642.7V645.7M432.9 642.7V645.7M437 642.7V645.7M440.3 642.7V645.7M443.1 642.7V645.7M445.5 642.7V645.7M447.7 642.7V645.7M449.6 642.7V648.2" stroke="#000" stroke-width="1.3" fill="none"/>
<text transform="translate(274 645.7) scale(1 1.1)" class="t" text-anchor="end">0</text>
<text transform="translate(274 612.2) scale(1 1.1)" class="t" text-anchor="end">20</text>
<text transform="translate(274 578.6) scale(1 1.1)" class="t" text-anchor="end">40</text>
<text transform="translate(274 545.1) scale(1 1.1)" class="t" text-anchor="end">60</text>
<text transform="translate(274 511.5) scale(1 1.1)" class="t" text-anchor="end">80</text>
<text transform="translate(274 478) scale(1 1.1)" class="t" text-anchor="end">100</text>
<text transform="translate(281.8 657.4) scale(1 1.1)" class="t" text-anchor="middle">1</text>
<text transform="translate(323.8 657.4) scale(1 1.1)" class="t" text-anchor="middle">10</text>
<text transform="translate(365.7 657.4) scale(1 1.1)" class="t" text-anchor="middle">100</text>
<text transform="translate(407.7 657.4) scale(1 1.1)" class="t" text-anchor="middle">1000</text>
<text transform="translate(449.6 657.4) scale(1 1.1)" class="t" text-anchor="middle">10000</text>
<text transform="translate(365.7 665.9) scale(1 1.1)" class="t" text-anchor="middle">FL2-H</text>
<text transform="translate(256.7 555.5) scale(1 1.05) rotate(-90)" class="t" text-anchor="middle">% of Max</text>
<circle cx="407" cy="223" r="0.7" fill="#000"/>
</svg>
</body></html>
